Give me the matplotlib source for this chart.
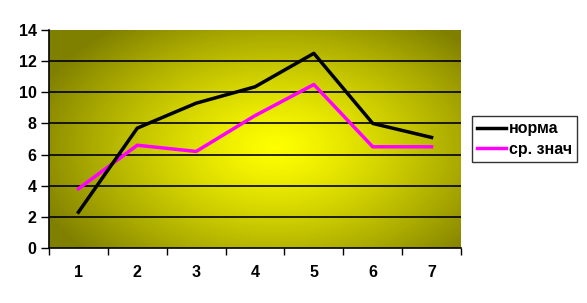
import matplotlib.pyplot as plt
import numpy as np

plt.rcParams['font.family'] = ['Liberation Sans', 'DejaVu Sans']

# data
categories = [1, 2, 3, 4, 5, 6, 7]
norma = [2.3, 7.7, 9.3, 10.35, 12.5, 8.0, 7.1]
sr_znach = [3.8, 6.6, 6.2, 8.5, 10.5, 6.5, 6.5]
yticks = [0, 2, 4, 6, 8, 10, 12, 14]

W, H = 587, 303
fig = plt.figure(figsize=(W / 100, H / 100), dpi=100)
ax = fig.add_axes([49 / W, 1 - 248 / H, 412 / W, 218 / H])

# radial yellow gradient background
gx, gy = np.meshgrid(np.linspace(0, 1, 300), np.linspace(0, 1, 200))
r = np.sqrt(((gx - 0.55) / 0.62) ** 2 + ((gy - 0.46) / 0.72) ** 2)
r = np.clip(r, 0, 1)
t = r ** 1.25
c0 = np.array([1.0, 1.0, 0.0])
c1 = np.array([0.5, 0.5, 0.0])
img = c0[None, None, :] * (1 - t[..., None]) + c1[None, None, :] * t[..., None]
ax.imshow(img, extent=[0, 1, 0, 1], transform=ax.transAxes, aspect='auto',
          origin='lower', zorder=0)

x = np.arange(len(categories))
for yv in yticks[1:-1]:
    ax.axhline(yv, color='black', lw=1.2, zorder=1)

ax.plot(x, norma, color='black', lw=2.5, label='норма', zorder=3)
ax.plot(x, sr_znach, color='#ff00ff', lw=2.5, label='ср. знач', zorder=2)

ax.set_xlim(-0.5, len(categories) - 0.5)
ax.set_ylim(0, 14)
ax.set_yticks(yticks)
ax.set_yticklabels([str(v) for v in yticks], fontsize=11.5, fontweight='bold')
ax.set_xticks(np.arange(len(categories) + 1) - 0.5)
ax.set_xticklabels([])
ax.set_xticks(x, minor=True)
ax.set_xticklabels([str(c) for c in categories], minor=True,
                   fontsize=11.5, fontweight='bold')
ax.tick_params(axis='x', which='minor', length=0, pad=12.5)
ax.tick_params(axis='x', which='major', length=5, width=1, direction='out')
ax.tick_params(axis='y', length=6, width=1, direction='out', pad=3)
for s in ['top', 'right']:
    ax.spines[s].set_visible(False)
ax.spines['left'].set_linewidth(1.2)
ax.spines['bottom'].set_linewidth(1.2)

leg = fig.legend(loc='center left', bbox_to_anchor=(472 / W, 1 - 139 / H),
                 frameon=True, fancybox=False, edgecolor='black',
                 prop={'size': 11.5, 'weight': 'bold'}, handlelength=1.8,
                 handletextpad=0.2, borderpad=0.3, labelspacing=0.35,
                 borderaxespad=0)
leg.get_frame().set_linewidth(1.0)

# nudge legend so its left edge sits at x=472 px
fig.canvas.draw()
bb = leg.get_window_extent()
leg.set_bbox_to_anchor((472 / W + (472 - bb.x0) / W, 1 - 139 / H),
                       transform=fig.transFigure)

fig.savefig('out.png', dpi=100)
